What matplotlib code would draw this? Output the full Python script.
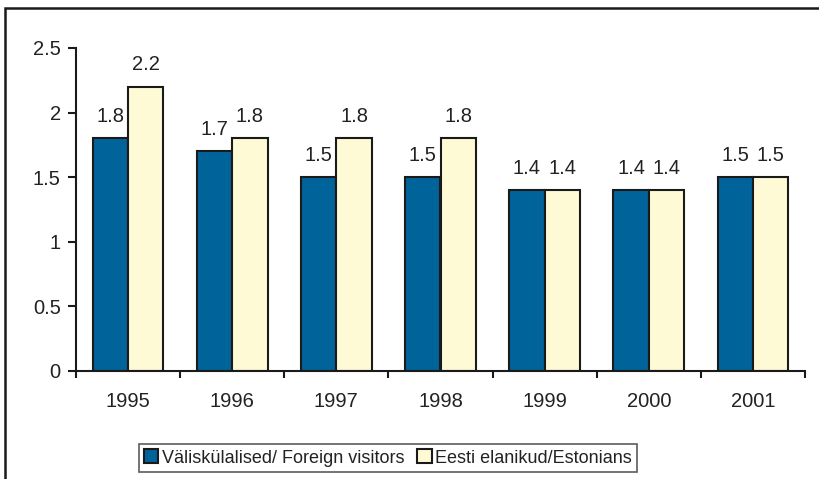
import matplotlib.pyplot as plt
import numpy as np
from matplotlib.patches import Rectangle

# Data
years = ['1995', '1996', '1997', '1998', '1999', '2000', '2001']
foreign = [1.8, 1.7, 1.5, 1.5, 1.4, 1.4, 1.5]
estonians = [2.2, 1.8, 1.8, 1.8, 1.4, 1.4, 1.5]
labels = ['Väliskülalised/ Foreign visitors', 'Eesti elanikud/Estonians']

plt.rcParams['font.family'] = ['Liberation Sans', 'DejaVu Sans']
txt = '#222222'

fig = plt.figure(figsize=(8.19, 4.79), dpi=100)
ax = fig.add_axes([76 / 819, 1 - 371 / 479, (805 - 76) / 819, (371 - 48) / 479])

x = np.arange(len(years))
w = 0.34
b1 = ax.bar(x - w / 2, foreign, w, color='#00649a', edgecolor='#1a1a1a', linewidth=1.5, label=labels[0])
b2 = ax.bar(x + w / 2, estonians, w, color='#fffad6', edgecolor='#1a1a1a', linewidth=1.5, label=labels[1])

for bars, vals in [(b1, foreign), (b2, estonians)]:
    for r, v in zip(bars, vals):
        ax.annotate(f'{v}', (r.get_x() + r.get_width() / 2, v), xytext=(0, 9),
                    textcoords='offset points', ha='center', va='bottom', fontsize=14.5, color=txt)

ax.set_xlim(-0.5, len(years) - 0.5)
ax.set_ylim(0, 2.5)
ax.set_yticks([0, 0.5, 1, 1.5, 2, 2.5])
ax.set_yticklabels(['0', '0.5', '1', '1.5', '2', '2.5'], color=txt)
ax.set_xticks(x)
ax.set_xticklabels(years, color=txt)
ax.set_xticks(np.arange(-0.5, len(years)), minor=True)
ax.tick_params(axis='x', which='major', length=0, pad=15, labelsize=14.5)
ax.tick_params(axis='x', which='minor', length=5, width=1.5, color='#1a1a1a')
ax.tick_params(axis='y', length=6, width=1.5, color='#1a1a1a', labelsize=14.5, pad=5)
for s in ['top', 'right']:
    ax.spines[s].set_visible(False)
for s in ['left', 'bottom']:
    ax.spines[s].set_linewidth(1.5)
    ax.spines[s].set_color('#1a1a1a')

leg = fig.legend(loc='center', bbox_to_anchor=(388 / 819, 1 - 458 / 479), ncol=2, fontsize=13,
                 frameon=True, fancybox=False, handlelength=0.8, handleheight=0.8,
                 handletextpad=0.2, columnspacing=0.7, borderpad=0.3)
leg.get_frame().set_edgecolor('#333333')
leg.get_frame().set_linewidth(1.2)
for t in leg.get_texts():
    t.set_color(txt)

# outer frame, open at right and bottom edge of the image
fig.patches.append(Rectangle((5 / 819, -0.1), 2.0, 1 - 8 / 479 + 0.1, transform=fig.transFigure,
                             fill=False, edgecolor='#1a1a1a', linewidth=1.8, clip_on=False))

plt.savefig('out.png', dpi=100)
